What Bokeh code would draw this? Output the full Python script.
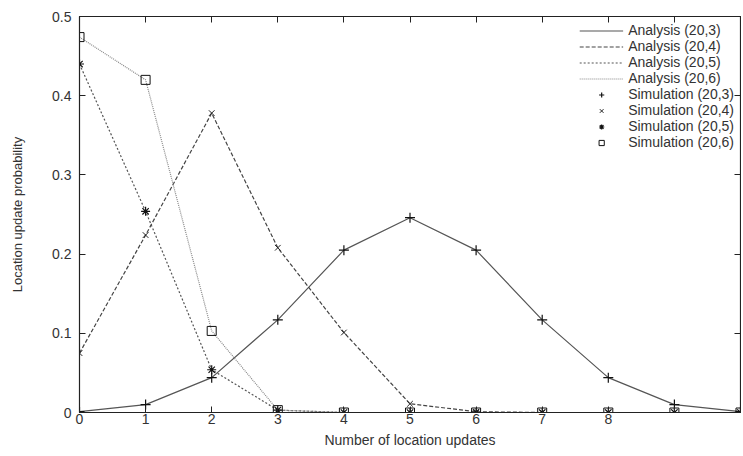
from bokeh.plotting import figure
from bokeh.models import Range1d, FixedTicker, LinearAxis, Legend, LegendItem
from bokeh.embed import file_html
from bokeh.resources import INLINE

x = [0, 1, 2, 3, 4, 5, 6, 7, 8, 9, 10]
p203 = [0.001, 0.010, 0.044, 0.117, 0.205, 0.246, 0.205, 0.117, 0.044, 0.010, 0.001]
p204 = [0.075, 0.224, 0.378, 0.208, 0.101, 0.011, 0.001, 0.0, 0.0, 0.0, 0.0]
p205 = [0.440, 0.254, 0.054, 0.003, 0.0, 0.0, 0.0, 0.0, 0.0, 0.0, 0.0]
p206 = [0.474, 0.420, 0.103, 0.003, 0.0, 0.0, 0.0, 0.0, 0.0, 0.0, 0.0]
x_ticks = [0, 1, 2, 3, 4, 5, 6, 7, 8, 9, 10]
x_labels = ["0", "1", "2", "3", "4", "5", "6", "7", "8", "", ""]
y_ticks = [0, 0.1, 0.2, 0.3, 0.4, 0.5]
y_labels = ["0", "0.1", "0.2", "0.3", "0.4", "0.5"]

FONT = "Liberation Sans"

p = figure(width=741, height=450, output_backend="svg", toolbar_location=None,
           x_range=Range1d(0, 10), y_range=Range1d(0, 0.5),
           min_border_left=79, min_border_right=1, min_border_top=16, min_border_bottom=37)
p.xgrid.visible = False
p.ygrid.visible = False
p.outline_line_color = "#222222"
p.outline_line_width = 1.2
p.background_fill_color = "white"
p.border_fill_color = "white"

def style_axis(ax, labels=True):
    ax.major_tick_in = 6
    ax.major_tick_out = 0
    ax.minor_tick_in = 0
    ax.minor_tick_out = 0
    ax.axis_line_color = "#222222"
    ax.major_tick_line_color = "#222222"
    ax.major_label_text_font = FONT
    ax.major_label_text_font_size = "14px"
    ax.major_label_text_color = "#333333"
    ax.axis_label_text_font = FONT
    ax.axis_label_text_font_size = "13px"
    ax.axis_label_text_font_style = "normal"
    ax.axis_label_text_color = "#333333"
    if not labels:
        ax.major_label_text_font_size = "0px"
        ax.major_label_text_color = None

p.xaxis.ticker = FixedTicker(ticks=x_ticks)
p.xaxis.major_label_overrides = {t: l for t, l in zip(x_ticks, x_labels)}
p.xaxis.axis_label = "Number of location updates"
p.xaxis.major_label_standoff = 1
p.xaxis.axis_label_standoff = 5
p.yaxis.ticker = FixedTicker(ticks=y_ticks)
p.yaxis.major_label_overrides = {t: l for t, l in zip(y_ticks, y_labels)}
p.yaxis.axis_label = "Location update probability"
p.yaxis.major_label_standoff = 8
p.yaxis.axis_label_standoff = 24
style_axis(p.xaxis[0])
style_axis(p.yaxis[0])
p.xaxis.axis_label_text_font_size = "14px"

top = LinearAxis(ticker=FixedTicker(ticks=x_ticks))
style_axis(top, labels=False)
top.major_label_overrides = {t: "" for t in x_ticks}
p.add_layout(top, "above")
right = LinearAxis(ticker=FixedTicker(ticks=y_ticks))
style_axis(right, labels=False)
right.major_label_overrides = {t: "" for t in y_ticks}
p.add_layout(right, "right")

l1 = p.line(x, p203, line_color="#555555", line_width=1.2)
l2 = p.line(x, p204, line_color="#444444", line_width=1.2, line_dash="4 2")
l3 = p.line(x, p205, line_color="#555555", line_width=1.2, line_dash="2 2")
l4 = p.line(x, p206, line_color="#888888", line_width=1.2, line_dash="1 1")

m1 = p.scatter(x, p203, marker="cross", size=10, line_color="#111111", line_width=1.2)
m2 = p.scatter(x, p204, marker="x", size=8, line_color="#222222", line_width=1)
m3 = p.scatter(x, p205, marker="asterisk", size=9, line_color="#111111", line_width=1.2)
m4 = p.scatter(x, p206, marker="square", size=9, line_color="#111111", fill_color=None, line_width=1)

legend = Legend(items=[
    LegendItem(label="Analysis (20,3)", renderers=[l1]),
    LegendItem(label="Analysis (20,4)", renderers=[l2]),
    LegendItem(label="Analysis (20,5)", renderers=[l3]),
    LegendItem(label="Analysis (20,6)", renderers=[l4]),
    LegendItem(label="Simulation (20,3)", renderers=[m1]),
    LegendItem(label="Simulation (20,4)", renderers=[m2]),
    LegendItem(label="Simulation (20,5)", renderers=[m3]),
    LegendItem(label="Simulation (20,6)", renderers=[m4]),
], location="top_right")
legend.background_fill_alpha = 0
legend.border_line_color = None
legend.label_text_font = FONT
legend.label_text_font_size = "14px"
legend.label_text_color = "#333333"
legend.label_height = 13
legend.glyph_height = 13
legend.glyph_width = 44
legend.spacing = 0
legend.padding = 0
legend.margin = 6
legend.label_text_line_height = 0.9
p.add_layout(legend)

open("out.html", "w").write(file_html(p, INLINE))
